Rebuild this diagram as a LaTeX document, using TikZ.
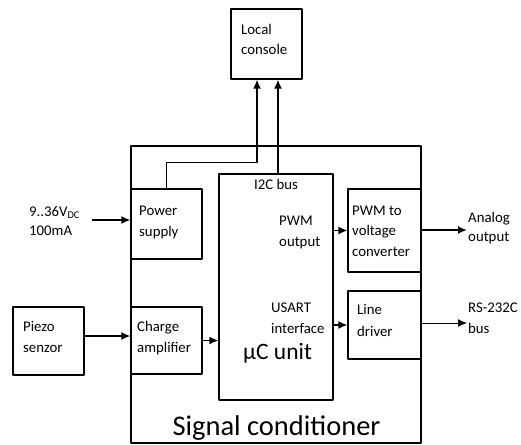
\documentclass[tikz,border=0pt]{standalone}
\usepackage{fontspec}
\setmainfont{Carlito}
\usetikzlibrary{arrows.meta}
\begin{document}
\begin{tikzpicture}[x=1pt,y=-1pt,
	line join = round,>={Latex[length=9pt,width=8pt]},
	blok/.style={rectangle,draw,line width=1.3pt,inner sep=0pt},
	txt/.style={inner sep=0pt,align=left,font=\fontsize{14.8}{21}\selectfont},
	sig/.style={line width=1.5pt}]
	\useasboundingbox (0,0) rectangle (521,444);
	% boxes
	\node at (276,294.5) (nodeS) [blok, minimum width=290pt, minimum height=297pt] {};
	\node at (266.5,44) (nodeL) [blok, minimum width=71pt, minimum height=70pt] {};
	\node at (166.5,224) (nodeP) [blok, minimum width=71pt, minimum height=70pt] {};
	\node at (166.5,340.5) (nodeCh) [blok, minimum width=71pt, minimum height=67pt] {};
	\node at (48.5,341) (nodePz) [blok, minimum width=71pt, minimum height=68pt] {};
	\node at (276,287) (nodeU) [blok, minimum width=114pt, minimum height=226pt] {};
	\node at (384.5,230.5) (nodeV) [blok, minimum width=73pt, minimum height=83pt] {};
	\node at (384.5,325) (nodeD) [blok, minimum width=73pt, minimum height=68pt] {};
	% texts
	\node at (241,54) (tL) [txt, anchor=base west, font=\fontsize{14.8}{20}\selectfont] {Local\\console};
	\node at (139,236) (tP) [txt, anchor=base west] {Power\\supply};
	\node at (137,352) (tCh) [txt, anchor=base west] {Charge\\amplifier};
	\node at (23,352) (tPz) [txt, anchor=base west] {Piezo\\senzor};
	\node at (29,235) (tIn) [txt, anchor=base west, font=\fontsize{14.8}{19}\selectfont] {9..36V\textsubscript{DC}\\100mA};
	\node at (276,189) (tI2C) [txt, anchor=base] {I2C bus};
	\node at (279,246) (tPWM) [txt, anchor=base west] {PWM\\output};
	\node at (271,333) (tUS) [txt, anchor=base west] {USART\\interface};
	\node at (243,359) (tU) [txt, anchor=base west, font=\fontsize{23.5}{26}\selectfont] {µC unit};
	\node at (352,256) (tV) [txt, anchor=base west, font=\fontsize{14.8}{20.5}\selectfont] {PWM to\\voltage\\converter};
	\node at (357,336) (tD) [txt, anchor=base west, font=\fontsize{14.8}{22}\selectfont] {Line\\driver};
	\node at (468,241) (tA) [txt, anchor=base west, font=\fontsize{14.8}{19}\selectfont] {Analog\\output};
	\node at (468,333) (tR) [txt, anchor=base west] {RS-232C\\bus};
	\node at (276.5,435) (tS) [txt, anchor=base, font=\fontsize{28.5}{30}\selectfont] {Signal conditioner};
	% connectors
	\coordinate (c1) at ([xshift=-9.5pt]nodeL.south);
	\coordinate (c2) at ([xshift=11.5pt]nodeL.south);
	\coordinate (cIn) at (92,220);
	\coordinate (cA) at (467,230);
	\coordinate (cR) at (467,323);
	\draw[->,sig] (nodeP.north) -- ++(0,-26) -| (c1);
	\draw[->,sig] (nodeU.north -| c2) -- (c2);
	\draw[->,sig] (cIn) -- (cIn -| nodeP.west);
	\draw[->,sig] ([yshift=5pt]nodePz.east) -- ([yshift=5pt]nodePz.east -| nodeCh.west);
	\draw[->,sig] (nodeCh.east) -- (nodeCh.east -| nodeU.west);
	\draw[->,sig] (nodeV.west -| nodeU.east) -- (nodeV.west);
	\draw[->,sig] (nodeD.west -| nodeU.east) -- (nodeD.west);
	\draw[->,line width=2.4pt] (cA -| nodeV.east) -- (cA);
	\draw[->,line width=1pt] (cR -| nodeD.east) -- (cR);
\end{tikzpicture}
\end{document}
